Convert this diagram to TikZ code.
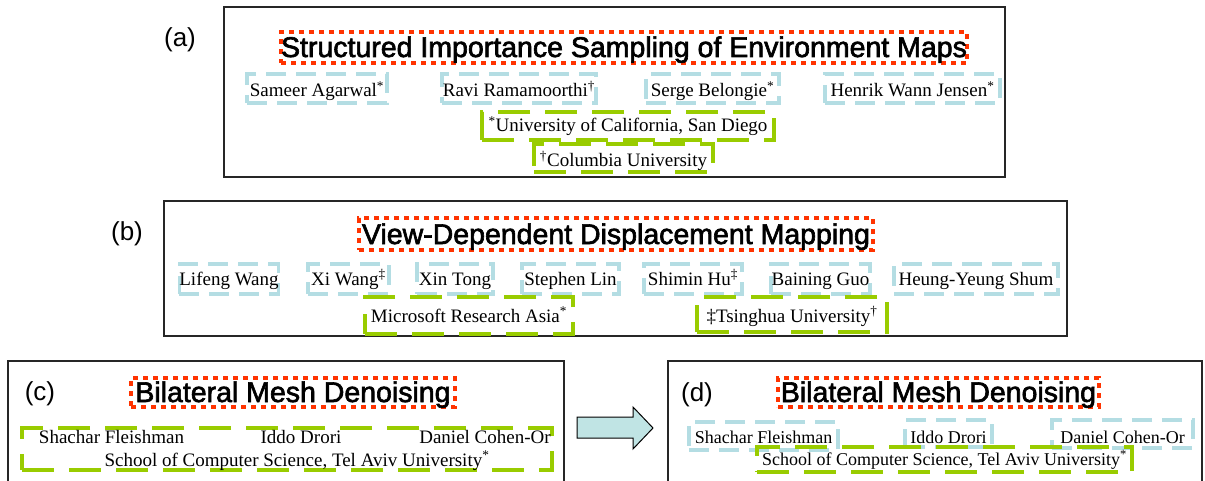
\documentclass[tikz,border=0pt]{standalone}
\usepackage{fontspec}
\setmainfont{Liberation Serif}
\setsansfont{Liberation Sans}
\newfontface\ttlfont{Liberation Sans}[FakeBold=2.2]
\definecolor{redd}{HTML}{FF3300}
\definecolor{blued}{HTML}{B4DDE3}
\definecolor{greend}{HTML}{99CC00}
\definecolor{arrfill}{HTML}{C0E4E4}
\tikzset{
  panel/.style={draw=black!85, line width=1.5pt, inner sep=0pt},
  lab/.style={font=\sffamily\fontsize{26}{28}\selectfont, inner sep=0pt},
  ttl/.style={draw=redd, line width=4.5pt, dash pattern=on 5pt off 5pt,
    font=\ttlfont\fontsize{28.5}{30}\selectfont, inner sep=0pt, text height=21pt, text depth=2pt},
  au/.style={draw=blued, line width=3.5pt, dash pattern=on 20pt off 10pt,
    font=\fontsize{19}{21}\selectfont, inner sep=0pt},
  af/.style={draw=greend, line width=4pt, dash pattern=on 32pt off 15pt,
    font=\fontsize{19}{21}\selectfont, inner sep=0pt},
  nm/.style={font=\fontsize{19}{21}\selectfont, inner sep=0pt},
  small/.style={font=\fontsize{18}{20}\selectfont},
  bx/.style 2 args={minimum width=#1, minimum height=#2},
  bo/.style={text height=#1, text depth=2pt},
  arr/.style={draw=black, line width=1pt, fill=arrfill},
}
\begin{document}
\begin{tikzpicture}[x=1pt, y=-1pt]
\useasboundingbox (0,0) rectangle (1205,481);
% panels
\node[panel, bx={781pt}{170pt}] (pa) at (614.5,92) {};
\node[panel, bx={903pt}{135pt}] (pb) at (615.5,268.5) {};
\node[panel, bx={556pt}{139pt}] (pc) at (286,430.5) {};
\node[panel, bx={534pt}{139pt}] (pd) at (935,430.5) {};
% labels
\node[lab] (la) at (180,40) {(a)};
\node[lab] (lb) at (127,234) {(b)};
\node[lab] (lc) at (40,394) {(c)};
\node[lab] (ld) at (697,395) {(d)};
% titles
\node[ttl, bx={684pt}{31pt}] (ta) at (624,47.5) {Structured Importance Sampling of Environment Maps};
\node[ttl, bx={514pt}{32pt}, bo=22pt] (tb) at (616,234) {View-Dependent Displacement Mapping};
\node[ttl, bx={324pt}{29pt}] (tc) at (293,392.5) {Bilateral Mesh Denoising};
\node[ttl, bx={321pt}{29pt}] (td) at (938.5,392.5) {Bilateral Mesh Denoising};
% (a) authors
\node[au, bx={140pt}{29pt}, bo=19pt] (a1) at (317,88.5) {Sameer Agarwal\textsuperscript{*}};
\node[au, bx={154pt}{29pt}, bo=19pt] (a2) at (519,88.5) {Ravi Ramamoorthi\textsuperscript{†}};
\node[au, bx={133pt}{29pt}, bo=19pt] (a3) at (712.5,88.5) {Serge Belongie\textsuperscript{*}};
\node[au, bx={175pt}{29pt}, bo=19pt] (a4) at (912.5,88.5) {Henrik Wann Jensen\textsuperscript{*}};
\node[af, bx={292pt}{28pt}, bo=14pt] (a5) at (628,126) {\textsuperscript{*}University of California, San Diego};
\node[af, bx={179pt}{28pt}, bo=19pt] (a6) at (623.5,158) {\textsuperscript{†}Columbia University};
% (b) authors
\node[au, bx={98pt}{30pt}, bo=14pt] (b1) at (229,279) {Lifeng Wang};
\node[au, bx={81pt}{30pt}, bo=14pt] (b2) at (348.5,279) {Xi Wang\textsuperscript{‡}};
\node[au, bx={76pt}{30pt}, bo=14pt] (b3) at (455,279) {Xin Tong};
\node[au, bx={97pt}{30pt}, bo=14pt] (b4) at (570.5,279) {Stephen Lin};
\node[au, bx={98pt}{30pt}, bo=14pt] (b5) at (693,279) {Shimin Hu\textsuperscript{‡}};
\node[au, bx={99pt}{30pt}, bo=14pt] (b6) at (820.5,279) {Baining Guo};
\node[au, bx={164pt}{30pt}, bo=14pt] (b7) at (976,279) {Heung-Yeung Shum};
\node[af, bx={208pt}{37pt}, bo=15pt] (b8) at (469,315.5) {Microsoft Research Asia\textsuperscript{*}};
\node[af, bx={190pt}{35pt}, bo=17pt] (b9) at (792,314.5) {‡Tsinghua University\textsuperscript{†}};
% (c)
\node[af, bx={530pt}{42pt}] (cg) at (287,449) {};
\node[nm, anchor=base] (c1) at (111.5,443) {Shachar Fleishman};
\node[nm, anchor=base] (c2) at (301,443) {Iddo Drori};
\node[nm, anchor=base] (c3) at (485,443) {Daniel Cohen-Or};
\node[nm, anchor=base] (c4) at (297,466) {School of Computer Science, Tel Aviv University\textsuperscript{*}};
% arrow
\draw[arr] (577,417) -- (633,417) -- (633,407) -- (653,428) -- (633,449) -- (633,438) -- (577,438) -- cycle;
% (d)
\node[au, small, bx={149pt}{28pt}, bo=16pt] (d1) at (763.5,436) {Shachar Fleishman};
\node[au, small, bx={87pt}{27pt}, bo=21pt] (d2) at (948.5,433.5) {Iddo Drori};
\node[au, small, bx={141pt}{28pt}, bo=20pt] (d3) at (1122.5,434) {Daniel Cohen-Or};
\node[af, small, bx={375pt}{25pt}, bo=13pt] (d4) at (944.5,459.5) {School of Computer Science, Tel Aviv University\textsuperscript{*}};
\end{tikzpicture}
\end{document}
